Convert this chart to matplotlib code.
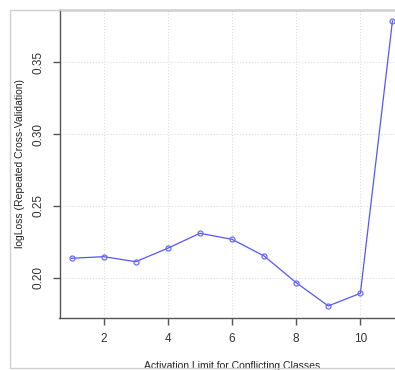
import matplotlib
matplotlib.use("Agg")
import matplotlib.pyplot as plt
from matplotlib.patches import Rectangle

plt.rcParams['font.family'] = ['Liberation Sans', 'DejaVu Sans']

# activation limit vs cross-validated logLoss
limits = [1, 2, 3, 4, 5, 6, 7, 8, 9, 10, 11]
logloss = [0.2135, 0.2146, 0.2111, 0.2205, 0.2309, 0.2267, 0.2151, 0.1965, 0.1803, 0.1891, 0.3788]
xticks = [2, 4, 6, 8, 10]
yticks = [0.20, 0.25, 0.30, 0.35]

W, H = 395, 370
fig = plt.figure(figsize=(W / 100, H / 100), dpi=100)

# light outer frame (cropped screenshot look)
fig.patches.append(Rectangle((10 / W, 1 - 368 / H), 400 / W, 358 / H,
                             transform=fig.transFigure, fill=False,
                             edgecolor='#d0d0d0', linewidth=1.0))

# axes box runs past the right edge of the image
ax = fig.add_axes([59.5 / W, 1 - 318 / H, 345 / W, 308 / H])
ax.set_xlim(0.625, 11.375)
ax.set_ylim(0.1719, 0.3864)

ax.plot(limits, logloss, color='#5555ff', linewidth=0.9, marker='o',
        markersize=3.6, markerfacecolor='none', markeredgecolor='#6a6aff',
        markeredgewidth=0.9)

ax.set_xticks(xticks)
ax.set_xticklabels([str(t) for t in xticks])
ax.set_yticks(yticks)
ax.set_yticklabels(['%.2f' % t for t in yticks], rotation=90, va='center')
ax.grid(True, color='#dcdcdc', linestyle=':', linewidth=0.8)
ax.set_axisbelow(True)

for side in ['left', 'bottom', 'top', 'right']:
    ax.spines[side].set_color('#555555')
    ax.spines[side].set_linewidth(1.0)

ax.tick_params(direction='out', length=5, width=1, color='#555555',
               labelsize=8.5, labelcolor='#333333', pad=6)

ax.set_xlabel('Activation Limit for Conflicting Classes', fontsize=7.5,
              color='#222222', labelpad=11)
ax.set_ylabel('logLoss (Repeated Cross-Validation)', fontsize=7.5,
              color='#222222', labelpad=5)

fig.savefig('out.png', dpi=100)
